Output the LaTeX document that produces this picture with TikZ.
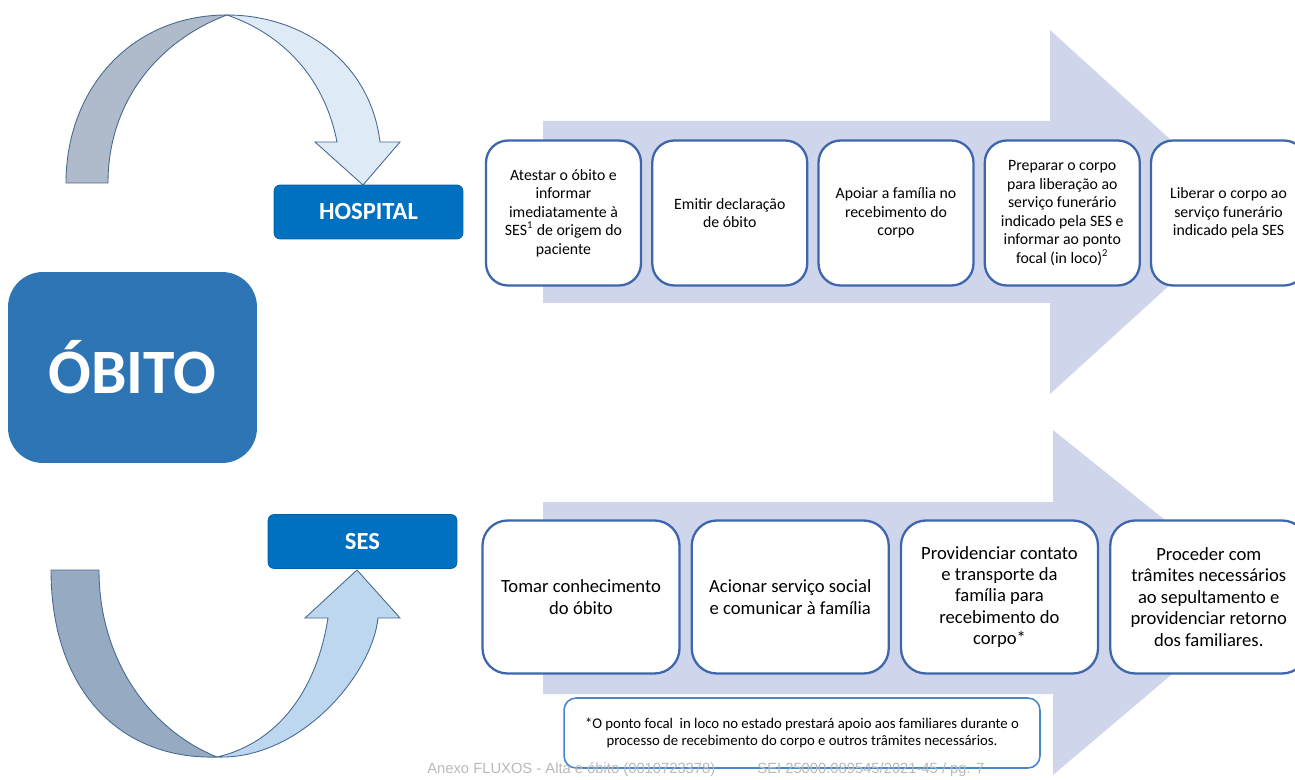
\documentclass[tikz,border=0pt]{standalone}
\usepackage{fontspec}
\setmainfont{Carlito}
\newfontfamily\footfont{Liberation Sans}
\usepackage{tikz}
\usetikzlibrary{positioning}
\definecolor{arrowfill}{RGB}{207,213,234}
\definecolor{boxline}{RGB}{62,102,172}
\definecolor{headerblue}{RGB}{0,112,192}
\definecolor{obitoblue}{RGB}{46,117,182}
\definecolor{noteline}{RGB}{70,135,200}
\definecolor{bendline}{RGB}{70,105,145}
\definecolor{bendgray}{RGB}{175,187,202}
\definecolor{bendlight}{RGB}{222,235,247}
\definecolor{bendgraydark}{RGB}{150,171,194}
\definecolor{bendblue}{RGB}{189,215,238}
\definecolor{footgray}{RGB}{185,185,185}
\tikzstyle{block} = [rectangle, draw=boxline, line width=1.3pt, fill=white, rounded corners=0.44cm, minimum width=3.1cm, minimum height=2.9cm, align=center, inner sep=2pt, font=\fontsize{9}{10.5}\selectfont]
\tikzstyle{wideblock} = [block, rounded corners=0.5cm, minimum width=3.94cm, minimum height=3.06cm, font=\fontsize{10.6}{12.2}\selectfont]
\tikzstyle{header} = [rectangle, fill=headerblue, draw=headerblue!85!black, line width=0.4pt, rounded corners=0.12cm, minimum width=3.78cm, minimum height=1.08cm, text=white, font=\fontsize{14}{16}\selectfont\bfseries]
\tikzstyle{mainblock} = [rectangle, fill=obitoblue, rounded corners=0.7cm, minimum width=4.98cm, minimum height=3.82cm, text=white, font=\fontsize{36}{40}\selectfont\bfseries]
\tikzstyle{note} = [rectangle, draw=noteline, line width=0.9pt, fill=white, rounded corners=0.24cm, minimum width=9.52cm, minimum height=1.4cm, align=center, font=\fontsize{8.4}{9.8}\selectfont]
\tikzstyle{curvearrow} = [draw=bendline, line width=0.5pt]

\begin{document}
\begin{tikzpicture}[x=0.02cm, y=-0.02cm]
\useasboundingbox (0,0) rectangle (1295,780);
% Background arrows
\fill[arrowfill] (543,121) -- (1050,121) -- (1050,30) -- (1250,212) -- (1050,394) -- (1050,303) -- (543,303) -- cycle;
\fill[arrowfill] (543,502) -- (1053,502) -- (1053,430) -- (1262,598) -- (1053,775) -- (1053,694) -- (543,694) -- cycle;
% Curved arrows
\path[curvearrow, fill=bendgray] (66,183) -- (108,183) .. controls (108,100) and (160,40) .. (227,15) .. controls (130,15) and (66,90) .. (66,183) -- cycle;
\path[curvearrow, fill=bendlight] (227,15) .. controls (300,15) and (370,60) .. (380,142) -- (400,142) -- (363,185) -- (315,142) -- (337,142) .. controls (325,80) and (285,35) .. (227,15) -- cycle;
\path[curvearrow, fill=bendgraydark] (51,570) -- (99,570) .. controls (99,660) and (150,730) .. (217,757) .. controls (120,760) and (51,690) .. (51,570) -- cycle;
\path[curvearrow, fill=bendblue] (217,757) .. controls (300,760) and (372,675) .. (378,618) -- (400,618) -- (357,570) -- (305,618) -- (328,618) .. controls (315,700) and (270,745) .. (217,757) -- cycle;
% Place nodes
\node [mainblock] (obito) at (132.5,367.5) {ÓBITO};
\node [header] (hospital) at (368.5,212) {HOSPITAL};
\node [header] (ses) at (362.5,541.5) {SES};
\node [block] (atestar) at (563.5,213) {Atestar o óbito e\\informar\\imediatamente à\\SES\textsuperscript{1} de origem do\\paciente};
\node [block, right=0.18cm of atestar] (emitir) {Emitir declaração\\de óbito};
\node [block, right=0.18cm of emitir] (apoiar) {Apoiar a família no\\recebimento do\\corpo};
\node [block, right=0.18cm of apoiar] (preparar) {Preparar o corpo\\para liberação ao\\serviço funerário\\indicado pela SES e\\informar ao ponto\\focal (in loco)\textsuperscript{2}};
\node [block, right=0.18cm of preparar] (liberar) {Liberar o corpo ao\\serviço funerário\\indicado pela SES};
\node [wideblock] (tomar) at (581,597) {Tomar conhecimento\\do óbito};
\node [wideblock, right=0.2cm of tomar] (acionar) {Acionar serviço social\\e comunicar à família};
\node [wideblock, right=0.2cm of acionar] (providenciar) {Providenciar contato\\e transporte da\\família para\\recebimento do\\corpo*};
\node [wideblock, right=0.2cm of providenciar] (proceder) {Proceder com\\trâmites necessários\\ao sepultamento e\\providenciar retorno\\dos familiares.};
\node [note] (pontofocal) at (802,733) {*O ponto focal\ \ in loco no estado prestará apoio aos familiares durante o\\processo de recebimento do corpo e outros trâmites necessários.};
\node [anchor=west, text=footgray, inner sep=0pt, font=\footfont\fontsize{8.4}{9}\selectfont] (rodape) at (427,770) {Anexo FLUXOS - Alta e óbito (0010723378)\hspace{24pt}SEI 25000.089545/2021-45 / pg. 7};
\end{tikzpicture}
\end{document}
